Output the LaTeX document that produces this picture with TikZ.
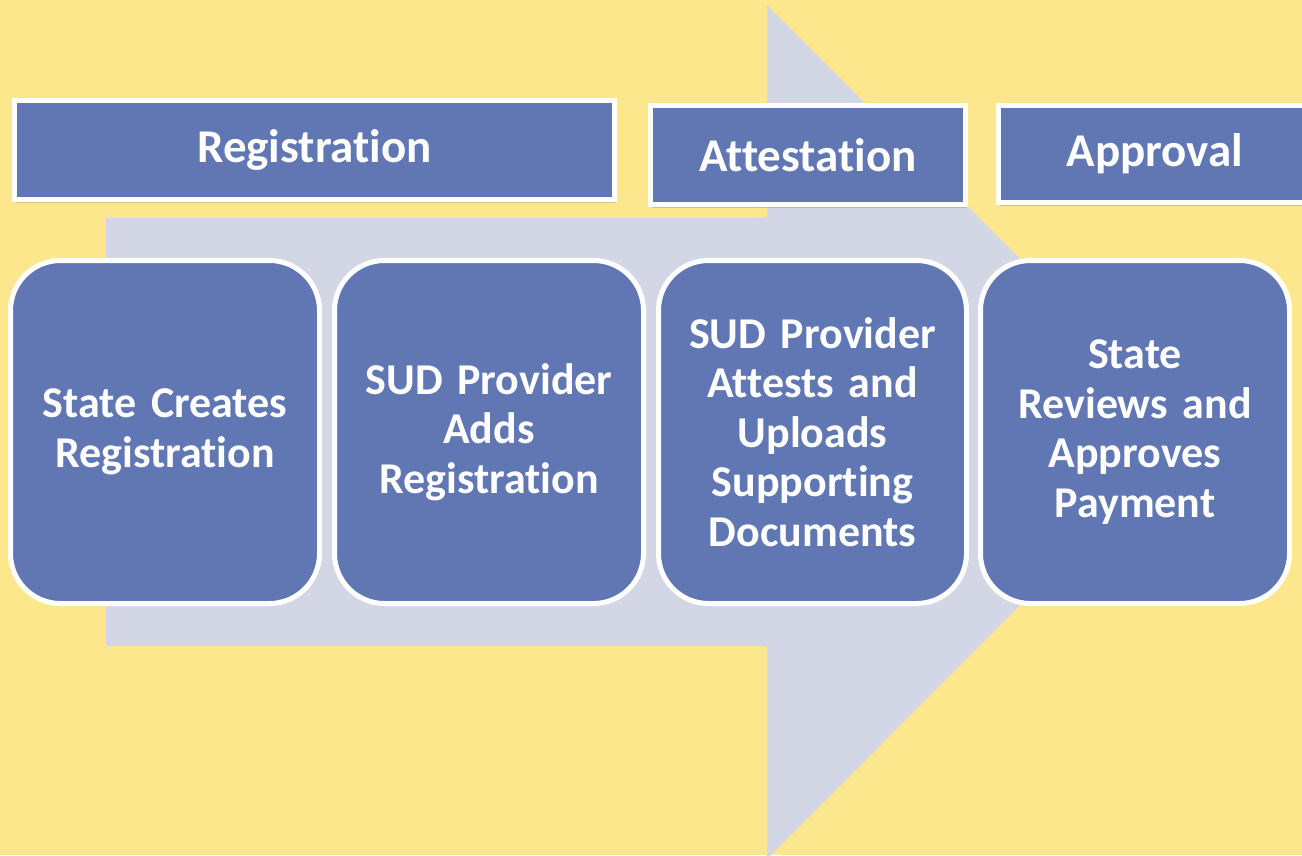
\documentclass[tikz,border=0pt]{standalone}
\usepackage{fontspec}
\setmainfont{Carlito}[Ligatures=NoCommon]
\usetikzlibrary{shadows}
\definecolor{bgyellow}{RGB}{253,231,141}
\definecolor{arrowgrey}{RGB}{211,215,229}
\definecolor{boxblue}{RGB}{97,119,180}
\tikzset{
  txt/.style={text=white, font=\bfseries\fontsize{44}{49.5}\selectfont, align=center, inner sep=0pt},
  header/.style={txt, font=\bfseries\fontsize{47}{50}\selectfont, rectangle, fill=boxblue, draw=white, line width=5pt,
    drop shadow={opacity=0.35, shadow xshift=1pt, shadow yshift=-3pt}},
  stepbox/.style={txt, rectangle, rounded corners=50pt, fill=boxblue, draw=white, line width=5pt,
    minimum width=309pt, minimum height=343pt, text width=295pt},
}
\begin{document}
\begin{tikzpicture}[x=1pt,y=-1pt]
\useasboundingbox (0,0) rectangle (1302,855);
\clip (0,0) rectangle (1302,855);
\fill[bgyellow] (0,0) rectangle (1302,855);
% big arrow
\fill[arrowgrey] (106,218) -- (767,218) -- (767,5) -- (1193,432) -- (767,859) -- (767,646) -- (106,646) -- cycle;
% headers
\node[header, minimum width=600pt, minimum height=99pt] (hreg) at (314.5,150) {Registration};
\node[header, minimum width=315pt, minimum height=99pt] (hatt) at (808,155) {Attestation};
\node[header, minimum width=313pt, minimum height=97pt] (happ) at (1155,154) {Approval};
% steps
\node[stepbox] (s1) at (165,432) {State Creates\\Registration};
\node[stepbox] (s2) at (489,432) {SUD Provider\\Adds\\Registration};
\node[stepbox, minimum width=308pt] (s3) at (812.5,432) {SUD Provider\\Attests and\\Uploads\\Supporting\\Documents};
\node[stepbox] (s4) at (1135,432) {State\\Reviews and\\Approves\\Payment};
\end{tikzpicture}
\end{document}
